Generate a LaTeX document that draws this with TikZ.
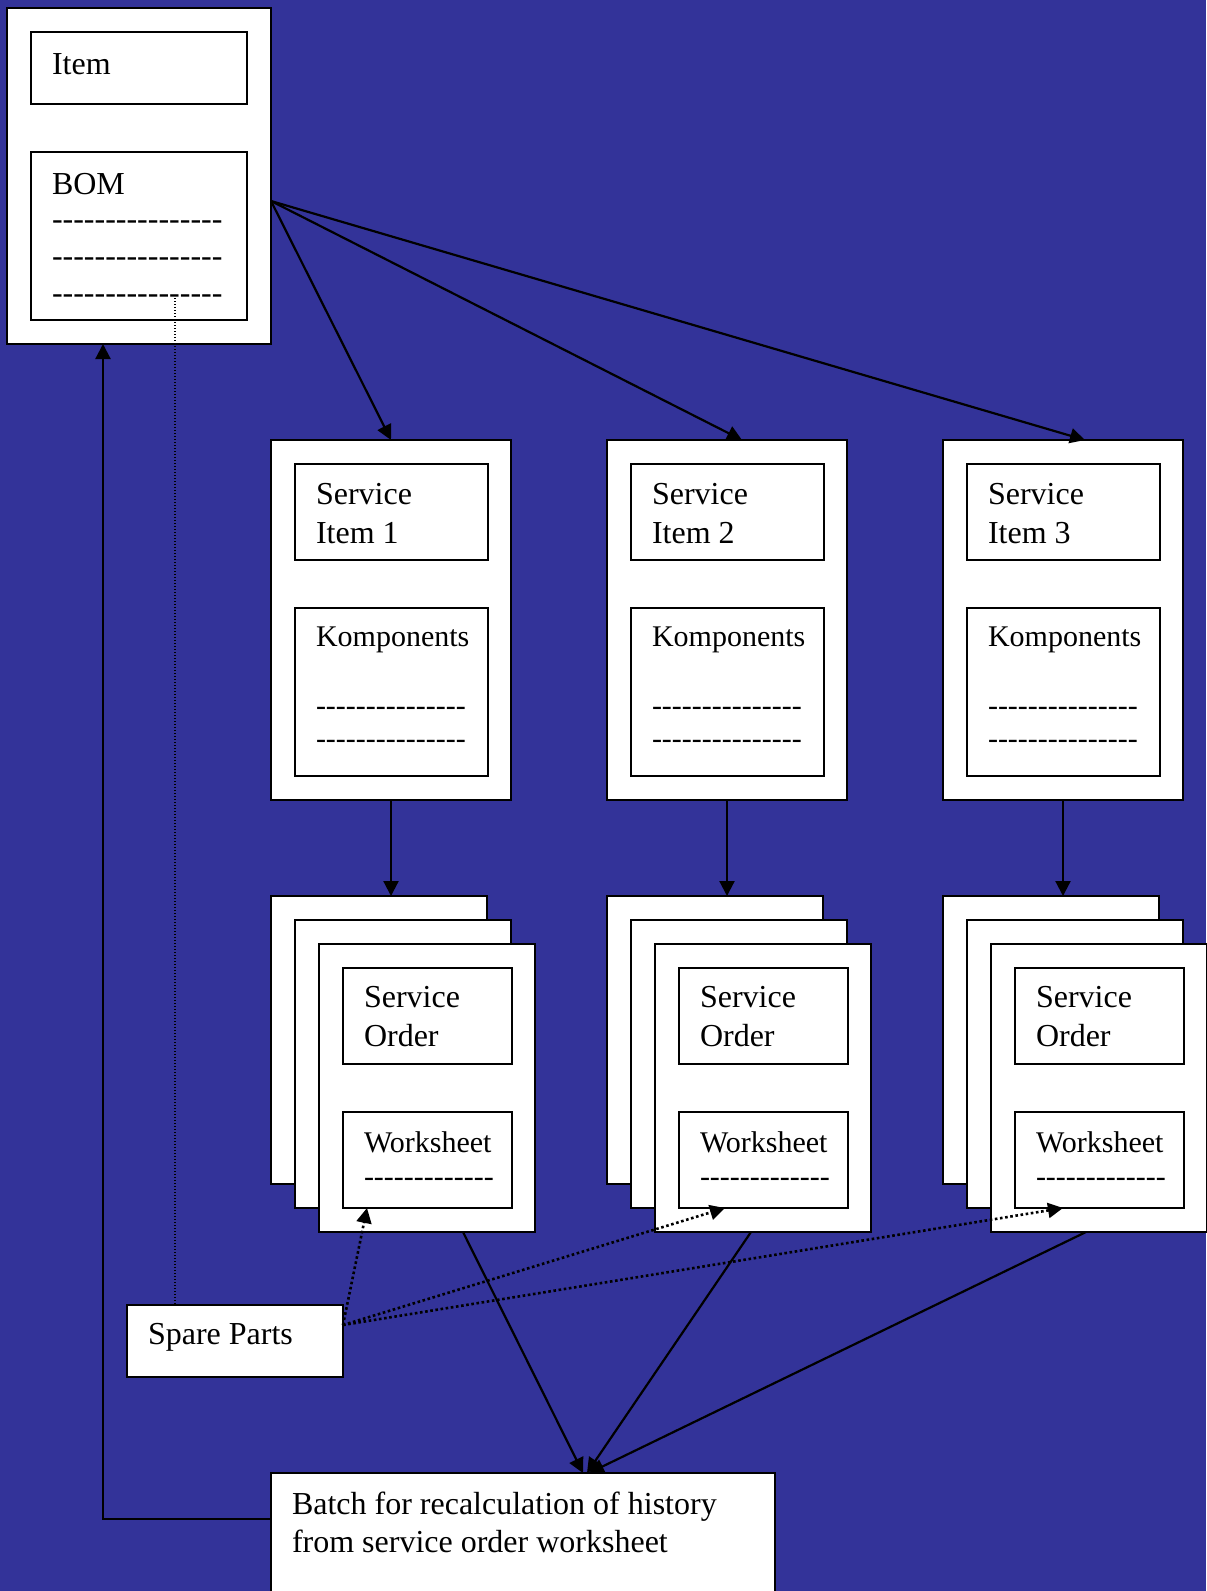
\documentclass[tikz,border=0pt]{standalone}
\usepackage{fontspec}
\setmainfont{Liberation Serif}
\usetikzlibrary{arrows.meta}
\definecolor{slide}{RGB}{51,51,153}
% a row of separate hyphens (kept apart so they never merge into dashes)
\newcount\dashcount
\newcommand\dashrow[1]{\dashcount=0 \loop\hbox{-}\advance\dashcount by 1 \ifnum\dashcount<#1 \repeat}
\begin{document}
% multi-line labels are placed by the baseline of their last line
\begin{tikzpicture}[x=0.5pt,y=-0.5pt,
  box/.style={draw=black, fill=white, line width=0.9pt, inner sep=0pt, outer sep=0pt, anchor=north west},
  txt/.style={anchor=base west, inner sep=0pt, outer sep=0pt, align=left, font=\fontsize{16}{19.5}\selectfont},
  smalltxt/.style={txt, font=\fontsize{15}{19.5}\selectfont},
  arr/.style={line width=1.1pt, -{Triangle[length=7.5pt,width=7.5pt]}},
  dotarr/.style={line width=1.3pt, dash pattern=on 1.3pt off 1.3pt, -{Triangle[length=7.5pt,width=7.5pt]}},
  thindot/.style={line width=0.6pt, dash pattern=on 0.6pt off 0.9pt}]

\useasboundingbox (0,0) rectangle (1206,1591);
\fill[slide] (0,0) rectangle (1206,1591);

% item card with its BOM
\node[box, minimum width=132pt, minimum height=168pt] (itemcard) at (7,8) {};
\node[box, minimum width=108pt, minimum height=36pt] (itembox) at (31,32) {};
\node[box, minimum width=108pt, minimum height=84pt] (bom) at (31,152) {};
\node[txt] (itemtxt) at (52,74) {Item};
\node[txt] (bomtxt) at (52,303) {BOM\\[-2pt]\dashrow{16}\\[-1pt]\dashrow{16}\\[-1pt]\dashrow{16}};
\coordinate (bomtap) at (175,295);

% three service items, each with a stack of service orders
\foreach \c/\cx in {1/271,2/607,3/943}{
  \node[box, minimum width=120pt, minimum height=180pt] (card\c) at (\cx,440) {};
  \node[box, minimum width=96.5pt, minimum height=48pt] (si\c) at (\cx+24,464) {};
  \node[box, minimum width=96.5pt, minimum height=84pt] (komp\c) at (\cx+24,608) {};
  \node[txt] (sitxt\c) at (\cx+45,543) {Service\\Item \c};
  \node[smalltxt] (komptxt\c) at (\cx+45,748) {Komponents\\[15pt]\dashrow{15}\\[-3pt]\dashrow{15}};
  \node[box, minimum width=108pt, minimum height=144pt] (pa\c) at (\cx,896) {};
  \node[box, minimum width=108pt, minimum height=144pt] (pb\c) at (\cx+24,920) {};
  \node[box, minimum width=108pt, minimum height=144pt] (pc\c) at (\cx+48,944) {};
  \node[box, minimum width=84.5pt, minimum height=48pt] (so\c) at (\cx+72,968) {};
  \node[box, minimum width=84.5pt, minimum height=48pt] (ws\c) at (\cx+72,1112) {};
  \node[txt] (sotxt\c) at (\cx+93,1046) {Service\\Order};
  \node[smalltxt] (wstxt\c) at (\cx+93,1186) {Worksheet\\[-2.5pt]\dashrow{13}};
  \draw[arr] (card\c.south) -- (card\c.south |- pa\c.north);
}

% spare parts and the history batch
\node[box, minimum width=108pt, minimum height=36pt] (spare) at (127,1305) {};
\node[txt] (sparetxt) at (148,1344) {Spare Parts};
\node[box, minimum width=252pt, minimum height=69pt] (batch) at (271,1473) {};
\node[txt] (batchtxt) at (292,1552) {Batch for recalculation of history\\[-0.5pt]from service order worksheet};

% item to service items
\draw[arr] ([yshift=-12.5pt]itemcard.east) -- (card1.north);
\draw[arr] ([yshift=-12.5pt]itemcard.east) -- ([xshift=7.5pt]card2.north);
\draw[arr] ([yshift=-12.5pt]itemcard.east) -- ([xshift=11pt]card3.north);

% BOM line to spare parts
\draw[thindot] (bomtap) -- (bomtap |- spare.north);

% spare parts into the worksheets
\draw[dotarr] ([yshift=8pt]spare.east) -- ([xshift=12pt]ws1.south west);
\draw[dotarr] ([yshift=8pt]spare.east) -- ([xshift=23pt]ws2.south west);
\draw[dotarr] ([yshift=8pt]spare.east) -- ([xshift=24pt]ws3.south west);

% service orders into the batch
\draw[arr] ([xshift=72pt]pc1.south west) -- ([xshift=156pt]batch.north west);
\draw[arr] ([xshift=48pt]pc2.south west) -- ([xshift=158pt]batch.north west);
\draw[arr] ([xshift=47.5pt]pc3.south west) -- ([xshift=159pt]batch.north west);

% batch back to the item
\draw[arr] ([yshift=11.5pt]batch.west) -| ([xshift=48pt]itemcard.south west);
\end{tikzpicture}
\end{document}
